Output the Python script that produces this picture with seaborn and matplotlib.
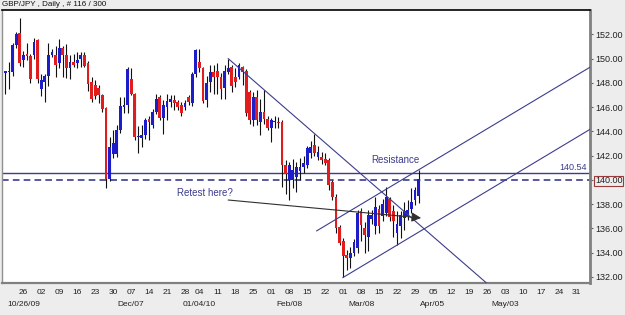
import numpy as np
import pandas as pd
import seaborn as sns
import matplotlib
matplotlib.use("Agg")
import matplotlib.pyplot as plt
import matplotlib.transforms as mtransforms

# GBP/JPY daily candles (bar index 0 = 19 Oct 2009)
opens = [148.8, 148.85, 148.9, 151.1, 152.1, 149.9, 150.4, 150.2, 150.3, 151.5,
         147.5, 148.1, 148.6, 150.3, 150.3, 149.6, 150.85, 150.3, 149.2, 149.7,
         149.6, 150.0, 150.3, 149.6, 148.1, 147.8, 147.6, 147.0, 145.9, 140.1,
         142.1, 142.1, 144.1, 146.0, 146.2, 148.35, 147.1, 143.5, 143.45, 143.7,
         145.0, 144.5, 145.6, 146.8, 145.1, 146.0, 146.45, 146.6, 146.4, 146.15,
         146.0, 146.85, 146.3, 148.75, 149.7, 149.2, 146.55, 148.1, 148.9, 149.0,
         148.5, 147.6, 148.9, 149.3, 148.5, 148.5, 149.3, 149.0, 147.25, 144.9,
         146.85, 144.8, 145.6, 145.05, 144.25, 144.8, 144.8, 144.8, 141.2, 140.0,
         140.0, 140.25, 140.7, 141.1, 141.2, 142.2, 142.9, 141.9, 141.9, 141.7,
         141.6, 139.8, 138.6, 136.1, 135.0, 133.8, 133.55, 133.95, 134.4, 137.4,
         136.0, 135.3, 136.8, 136.2, 137.6, 137.0, 137.3, 138.4, 137.4, 135.6,
         136.2, 136.85, 137.0, 137.6, 138.3, 138.7]
highs = [149.0, 149.7, 151.3, 152.2, 153.3, 150.6, 151.3, 150.4, 151.7, 151.6,
         148.7, 148.7, 151.3, 150.8, 151.0, 151.65, 151.0, 151.2, 150.3, 150.4,
         150.5, 150.5, 150.5, 149.8, 148.5, 148.2, 147.8, 147.1, 146.0, 143.5,
         144.1, 144.5, 146.85, 146.85, 149.3, 149.2, 147.2, 144.4, 144.5, 145.1,
         145.3, 145.8, 147.1, 147.0, 146.6, 147.1, 147.0, 147.0, 146.6, 146.4,
         146.55, 147.0, 148.9, 150.8, 150.75, 149.3, 148.6, 149.45, 149.45, 149.6,
         148.8, 149.5, 150.0, 149.5, 149.2, 149.6, 149.4, 149.1, 147.4, 147.25,
         147.4, 146.7, 147.4, 145.3, 145.1, 145.3, 145.2, 144.9, 141.6, 141.5,
         141.7, 141.5, 141.8, 142.0, 142.8, 143.2, 143.8, 142.8, 142.3, 142.2,
         141.8, 140.0, 138.8, 136.3, 135.2, 134.2, 134.5, 135.1, 137.5, 137.7,
         136.5, 137.5, 137.5, 138.6, 137.9, 138.4, 139.4, 138.6, 137.9, 137.4,
         137.4, 138.2, 138.3, 139.3, 139.4, 140.8]
lows = [147.1, 147.5, 148.6, 150.9, 149.4, 149.3, 149.9, 148.0, 150.0, 148.0,
        146.9, 146.4, 147.7, 150.1, 148.5, 149.2, 148.5, 148.4, 148.35, 149.3,
        149.2, 149.3, 149.3, 147.3, 146.4, 146.7, 146.3, 145.6, 139.3, 139.9,
        141.8, 141.9, 143.9, 145.5, 145.5, 147.0, 143.3, 142.2, 142.7, 143.4,
        143.3, 144.3, 145.4, 144.9, 143.8, 144.9, 146.0, 145.75, 145.75, 145.3,
        145.75, 146.15, 146.1, 148.5, 148.9, 146.3, 146.0, 147.25, 147.1, 147.1,
        146.7, 146.7, 148.7, 147.25, 147.65, 148.3, 147.8, 145.3, 144.6, 144.4,
        144.5, 143.7, 144.6, 144.1, 143.1, 144.25, 144.3, 139.4, 138.8, 138.3,
        139.3, 139.0, 140.0, 140.6, 141.0, 141.8, 142.0, 141.6, 141.3, 141.2,
        139.2, 138.3, 135.6, 134.6, 132.0, 132.6, 132.7, 133.7, 134.0, 135.0,
        134.0, 134.1, 136.4, 135.5, 135.6, 136.6, 137.0, 136.6, 135.3, 134.6,
        135.2, 135.9, 136.7, 137.3, 137.9, 138.1]
closes = [148.95, 148.95, 151.1, 152.0, 149.6, 150.3, 150.2, 148.3, 151.4, 148.3,
          148.2, 148.6, 150.3, 150.5, 149.45, 150.85, 150.3, 149.2, 149.7, 149.45,
          149.9, 150.3, 149.4, 147.9, 146.7, 146.9, 147.0, 145.8, 140.1, 142.7,
          143.0, 144.1, 146.1, 146.15, 149.1, 147.1, 143.5, 143.6, 143.7, 144.9,
          144.8, 145.6, 146.7, 145.1, 146.15, 146.5, 146.7, 146.3, 146.0, 145.5,
          146.3, 146.4, 148.75, 150.7, 149.2, 146.5, 147.95, 148.9, 148.5, 148.5,
          147.5, 149.0, 149.2, 147.7, 148.1, 149.45, 148.9, 145.5, 144.9, 146.85,
          144.9, 145.6, 145.05, 144.25, 144.9, 144.85, 144.7, 141.2, 140.5, 141.2,
          140.8, 141.1, 141.1, 141.4, 142.6, 142.7, 142.2, 142.3, 141.6, 141.4,
          139.6, 138.6, 136.0, 134.8, 133.7, 133.55, 133.95, 134.9, 137.25, 136.3,
          135.45, 137.1, 137.1, 137.8, 136.2, 138.0, 138.6, 136.9, 136.6, 136.4,
          137.1, 137.4, 137.5, 138.2, 139.2, 140.05]

# weekly tick labels (bar index positions on the MT4 axis)
tick_pos = [5, 10, 15, 20, 25, 30, 35, 40, 45, 50, 54, 59, 64, 69, 74, 79,
            84, 89, 94, 99, 104, 109, 114, 119, 124, 129, 134, 139, 144, 149, 154, 159]
tick_days = ["26", "02", "09", "16", "23", "30", "07", "14", "21", "28", "04", "11",
             "18", "25", "01", "08", "15", "22", "01", "08", "15", "22", "29", "05",
             "12", "19", "26", "03", "10", "17", "24", "31"]
month_pos = [5, 35, 54, 79, 99, 119, 139]
month_labels = ["10/26/09", "Dec/07", "01/04/10", "Feb/08", "Mar/08", "Apr/05", "May/03"]
y_ticks = [132, 134, 136, 138, 140, 142, 144, 146, 148, 150, 152]

# drawn objects: levels and trendlines (bar index, price)
resistance = 140.54
round_level = 140.00
down_line = ([62, 140], [150.0, 129.93])
channel_low = ([93.9, 170], [131.94, 145.46])
channel_high = ([86.6, 170], [135.79, 150.58])
retest_arrow = ((62.0, 138.34), (115.7, 136.86))

df = pd.DataFrame({"open": opens, "high": highs, "low": lows, "close": closes})
df["idx"] = np.arange(len(df))
df["up"] = df["close"] >= df["open"]

sns.set_theme(style="white")
plt.rcParams["font.family"] = ["Liberation Sans", "DejaVu Sans"]

navy = "#3c3c8e"
bg = "#ededed"

fig = plt.figure(figsize=(6.25, 3.15), dpi=100, facecolor=bg)
ax = fig.add_axes([2 / 625, 1 - 283 / 315, 588 / 625, 273 / 315])
ax.set_facecolor("white")

# candles
ax.vlines(df["idx"], df["low"], df["high"], color="#111111", lw=0.8, zorder=2)
body_h = (df["close"] - df["open"]).abs().clip(lower=0.08)
body_b = df[["open", "close"]].min(axis=1)
colors = np.where(df["up"], "#1c1cc8", "#e01c1c")
ax.bar(df["idx"], body_h, bottom=body_b, width=0.78, color=colors, linewidth=0, zorder=3)

# horizontal levels
ax.axhline(resistance, color=navy, lw=1.0, zorder=1)
ax.axhline(round_level, color=navy, lw=1.2, ls=(0, (4, 2.5)), zorder=1)

# trendlines
for xs, ys in (down_line, channel_low, channel_high):
    sns.lineplot(x=xs, y=ys, ax=ax, color=navy, lw=0.8, legend=False, zorder=4)

ax.annotate("", xy=retest_arrow[1], xytext=retest_arrow[0],
            arrowprops=dict(arrowstyle="-|>", color="#303030", lw=0.8,
                            mutation_scale=14, shrinkA=0, shrinkB=0), zorder=5)
ax.text(55.6, 138.9, "Retest here?", color=navy, fontsize=7, ha="center", va="center")
ax.text(108.5, 141.6, "Resistance", color=navy, fontsize=7, ha="center", va="center")
ax.annotate(f"{resistance:.2f}", xy=(1, resistance), xycoords=("axes fraction", "data"),
            xytext=(-2, 1), textcoords="offset points", ha="right", va="bottom",
            color=navy, fontsize=6.5)

ax.set_xlim(-0.93, 162.7)
ax.set_ylim(131.5, 154.0)

# axes frame
for side, c, w in (("top", "black", 1.2), ("bottom", "#808080", 1.6),
                   ("right", "#808080", 2.0), ("left", "#909090", 1.0)):
    ax.spines[side].set_color(c)
    ax.spines[side].set_linewidth(w)

ax.yaxis.tick_right()
ax.set_yticks(y_ticks)
ax.set_yticklabels([f"{v:.2f}" for v in y_ticks])
ax.tick_params(axis="y", right=True, length=2.5, width=0.8, color="#606060",
               pad=1, labelsize=6.5, labelcolor="#222222")
for lab in ax.get_yticklabels():
    if lab.get_text() == f"{round_level:.2f}":
        lab.set_bbox(dict(facecolor="none", edgecolor="#9a3a3a", pad=0.6, lw=0.8))

ax.set_xticks(tick_pos)
ax.set_xticklabels(tick_days)
ax.tick_params(axis="x", bottom=True, length=0, pad=4, labelsize=6, labelcolor="#222222")
trans = mtransforms.blended_transform_factory(ax.transData, ax.transAxes)
for p, lab in zip(month_pos, month_labels):
    ax.text(p, -0.077, lab, transform=trans, ha="center", va="center",
            fontsize=6, color="#222222")

ax.set_xlabel("")
ax.set_ylabel("")
fig.text(0.004, 1 - 5 / 315, "GBP/JPY , Daily , # 116 / 300", fontsize=5.8,
         ha="left", va="center", color="#111111")

fig.savefig("out.png", dpi=100, facecolor=bg)
